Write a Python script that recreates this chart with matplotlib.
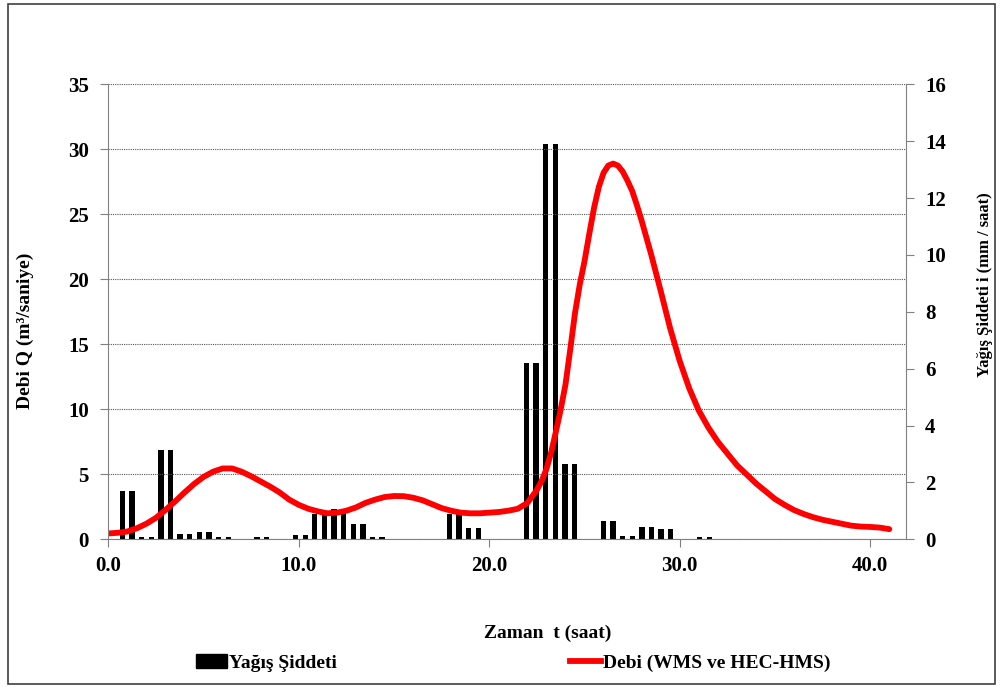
import numpy as np
import matplotlib
matplotlib.use("Agg")
import matplotlib.pyplot as plt
from matplotlib.patches import Patch, Rectangle
from matplotlib.lines import Line2D

plt.rcParams['font.family'] = ['Liberation Serif', 'DejaVu Serif']
plt.rcParams['font.weight'] = 'bold'

# Debi (m3/s)
t_q = [0.0, 0.5, 1.0, 1.5, 2.0, 2.5, 3.0, 3.5, 4.0, 4.5,
       5.0, 5.5, 6.0, 6.5, 7.0, 7.5, 8.0, 8.5, 9.0, 9.5,
       10.0, 10.5, 11.0, 11.5, 12.0, 12.5, 13.0, 13.5, 14.0, 14.5,
       15.0, 15.5, 16.0, 16.5, 17.0, 17.5, 18.0, 18.5, 19.0, 19.5,
       20.0, 20.5, 21.0, 21.5, 22.0, 22.5, 22.75, 23.0, 23.25, 23.5,
       23.75, 24.0, 24.25, 24.5, 24.75, 25.0, 25.25, 25.5, 25.75, 26.0,
       26.25, 26.5, 26.75, 27.0, 27.25, 27.5, 27.75, 28.0, 28.25, 28.5,
       29.0, 29.5, 30.0, 30.5, 31.0, 31.5, 32.0, 32.5, 33.0, 33.5,
       34.0, 34.5, 35.0, 35.5, 36.0, 36.5, 37.0, 37.5, 38.0, 38.5,
       39.0, 39.5, 40.0, 40.5, 41.0]
debi = [0.45, 0.5, 0.6, 0.85, 1.2, 1.65, 2.25, 2.9, 3.6, 4.25,
        4.8, 5.2, 5.45, 5.45, 5.2, 4.85, 4.45, 4.05, 3.6, 3.05,
        2.65, 2.35, 2.15, 2.0, 2.05, 2.2, 2.45, 2.8, 3.05, 3.25,
        3.33, 3.32, 3.2, 3.0, 2.7, 2.4, 2.2, 2.05, 2.0, 2.0,
        2.05, 2.1, 2.2, 2.35, 2.8, 3.8, 4.5, 5.4, 6.7, 8.3,
        10.0, 11.9, 14.6, 17.4, 19.6, 21.4, 23.5, 25.5, 27.1, 28.2,
        28.75, 28.9, 28.75, 28.3, 27.6, 26.8, 25.7, 24.5, 23.2, 21.9,
        19.1, 16.2, 13.7, 11.6, 9.9, 8.6, 7.5, 6.6, 5.7, 5.0,
        4.3, 3.7, 3.1, 2.65, 2.25, 1.95, 1.7, 1.5, 1.35, 1.2,
        1.05, 0.98, 0.95, 0.9, 0.78]

# Yagis siddeti (mm/saat), one bar per step
rain = [1.7, 1.7, 0.07, 0.07, 3.15, 3.15, 0.2, 0.2, 0.27, 0.27,
        0.07, 0.07, 0, 0, 0.07, 0.07, 0, 0, 0.15, 0.15,
        0.88, 0.88, 1.05, 1.05, 0.53, 0.53, 0.07, 0.07, 0, 0,
        0, 0, 0, 0, 0.88, 0.88, 0.41, 0.41, 0, 0,
        0, 0, 6.2, 6.2, 13.9, 13.9, 2.65, 2.65, 0, 0,
        0.65, 0.65, 0.1, 0.1, 0.42, 0.42, 0.37, 0.37, 0, 0,
        0.07, 0.07]
rain_start = 0.74
rain_step = 0.505
t_rain = rain_start + rain_step * np.arange(len(rain))

fig = plt.figure(figsize=(10.01, 6.87), dpi=100)
fig.patches.append(Rectangle((8 / 1001, 3 / 687), 987 / 1001, 680 / 687,
                             transform=fig.transFigure, fill=False,
                             edgecolor='#404040', linewidth=1.2))

ax = fig.add_axes([108.3 / 1001, 1 - 539.3 / 687, 797.4 / 1001, 455 / 687])
ax2 = ax.twinx()

ax2.bar(t_rain, rain, width=0.28, color='black')
ax.plot(t_q, debi, color='red', linewidth=4.2, solid_capstyle='round',
        solid_joinstyle='round')

ax.set_zorder(ax2.get_zorder() + 1)
ax.patch.set_visible(False)

ax.set_xlim(0, 41.86)
ax.set_ylim(0, 35)
ax2.set_ylim(0, 16)
ax.set_xticks([0, 10, 20, 30, 40])
ax.set_xticklabels(['0.0', '10.0', '20.0', '30.0', '40.0'])
ax.set_yticks(range(0, 36, 5))
ax2.set_yticks(range(0, 17, 2))

ax.yaxis.grid(True, linestyle=(0, (1, 1)), color='#555555', linewidth=0.8)

for a in (ax, ax2):
    a.spines['top'].set_visible(False)
    for s in a.spines.values():
        s.set_color('#808080')
    a.tick_params(direction='out', length=6, color='#808080',
                  labelsize=15, pad=8)
ax.tick_params(axis='x', pad=6)
ax.spines['right'].set_visible(False)
ax2.spines['left'].set_visible(False)
ax2.spines['bottom'].set_visible(False)

fig.text(548 / 1001, 1 - 633 / 687, 'Zaman  t (saat)', ha='center',
         va='center', fontsize=14, fontweight='bold')
fig.text(25 / 1001, 1 - 331 / 687, 'Debi Q (m³/saniye)', ha='center',
         va='center', rotation=90, fontsize=14, fontweight='bold')
fig.text(985 / 1001, 1 - 285 / 687, 'Yağış Şiddeti i (mm / saat)',
         ha='center', va='center', rotation=90, fontsize=12,
         fontweight='bold')

handles = [Patch(facecolor='black', edgecolor='black'),
           Line2D([], [], color='red', linewidth=4.2)]
fig.legend(handles, ['Yağış Şiddeti', 'Debi (WMS ve HEC-HMS)'], ncol=2,
           loc='center', bbox_to_anchor=(0.5125, 0.035), frameon=False,
           fontsize=14, handlelength=1.6, handletextpad=0.1,
           columnspacing=12.0, borderpad=0)

fig.savefig('out.png', dpi=100)
